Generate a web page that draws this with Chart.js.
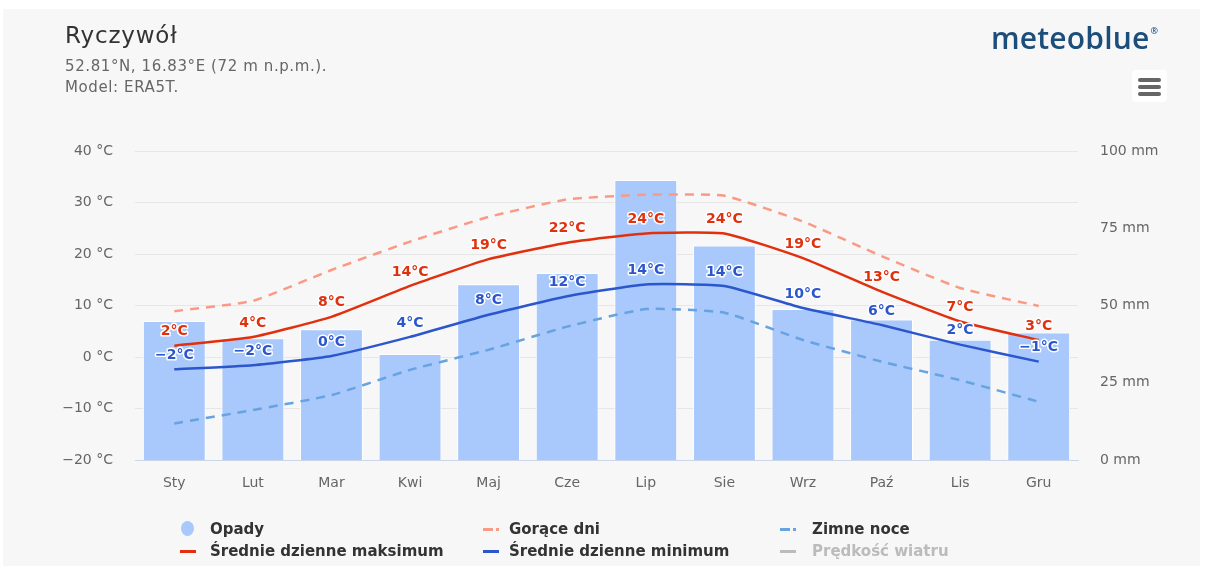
<!DOCTYPE html>
<html>
<head>
<meta charset="utf-8">
<script src="https://cdn.jsdelivr.net/npm/chart.js@4.4.1/dist/chart.umd.min.js"></script>
<style>
  html, body { margin:0; padding:0; background:#ffffff; }
  body { width:1206px; height:566px; position:relative; overflow:hidden; font-family:"DejaVu Sans", sans-serif; }
  #panel { position:absolute; left:3px; top:9px; width:1197px; height:557px; background:#f7f7f7; }
  #chartWrap { position:absolute; left:0; top:0; width:1206px; height:566px; }
  #title { position:absolute; left:65px; top:22px; font-size:23px; color:#333; letter-spacing:0.8px; }
  .sub { position:absolute; left:65px; font-size:15px; color:#666; letter-spacing:0.6px; }
  #logo { position:absolute; left:991px; top:17px; font-family:"Open Sans", sans-serif; font-weight:600; font-size:30px; color:#1c4e7b; letter-spacing:0.2px; }
  #logo sup { font-size:9px; position:relative; top:-4px; margin-left:1px; }
  #menu { position:absolute; left:1132px; top:70px; width:35px; height:32px; background:#fff; border-radius:4px; }
  #menu div { position:absolute; left:6px; width:23px; height:3.5px; background:#666; border-radius:2px; }
  .leg { position:absolute; font-size:15px; font-weight:700; color:#333; white-space:nowrap; line-height:18px; }
  .sym { position:absolute; }
</style>
</head>
<body>
<div id="panel"></div>
<div id="chartWrap"><canvas id="c" width="1206" height="566"></canvas></div>
<div id="title">Ryczywół</div>
<div class="sub" style="top:57px;">52.81°N, 16.83°E (72 m n.p.m.).</div>
<div class="sub" style="top:78px;">Model: ERA5T.</div>
<div id="logo">meteoblue<sup>®</sup></div>
<div id="menu"><div style="top:8px"></div><div style="top:15px"></div><div style="top:22px"></div></div>

<div class="sym" style="left:181px;top:521px;width:13px;height:15px;border-radius:50%;background:#a9c8fb;"></div>
<div class="leg" style="left:210px;top:520px;">Opady</div>
<div class="sym" style="left:483px;top:528px;width:10px;height:3px;background:#fa9a85;"></div>
<div class="sym" style="left:496px;top:528px;width:3px;height:3px;background:#fa9a85;"></div>
<div class="leg" style="left:509px;top:520px;">Gorące dni</div>
<div class="sym" style="left:780px;top:528px;width:10px;height:3px;background:#66a3e0;"></div>
<div class="sym" style="left:793px;top:528px;width:3px;height:3px;background:#66a3e0;"></div>
<div class="leg" style="left:812px;top:520px;">Zimne noce</div>

<div class="sym" style="left:180px;top:550px;width:16px;height:3px;background:#e0300e;"></div>
<div class="leg" style="left:210px;top:542px;">Średnie dzienne maksimum</div>
<div class="sym" style="left:483px;top:550px;width:16px;height:3px;background:#2b56cc;"></div>
<div class="leg" style="left:509px;top:542px;">Średnie dzienne minimum</div>
<div class="sym" style="left:780px;top:550px;width:16px;height:3px;background:#bbbbbb;"></div>
<div class="leg" style="left:812px;top:542px;color:#bbbbbb;">Prędkość wiatru</div>

<script>
const categories = ['Sty','Lut','Mar','Kwi','Maj','Cze','Lip','Sie','Wrz','Paź','Lis','Gru'];
const precipitation = [45.0, 39.4, 42.3, 34.3, 56.9, 60.5, 90.6, 69.4, 48.9, 45.5, 38.9, 41.3];
const meanMax = [2.2, 3.9, 7.8, 13.8, 19.0, 22.2, 24.0, 24.0, 19.2, 12.7, 6.9, 3.3];
const meanMin = [-2.4, -1.6, 0.2, 3.9, 8.2, 11.8, 14.1, 13.8, 9.5, 6.2, 2.4, -0.9];
const hotDays = [8.9, 10.9, 16.9, 22.4, 27.2, 30.6, 31.5, 31.3, 26.3, 19.6, 13.4, 9.9];
const coldNights = [-12.9, -10.3, -7.4, -2.5, 1.4, 5.9, 9.3, 8.6, 3.3, -0.9, -4.5, -8.7];
const tempTicks = [-20, -10, 0, 10, 20, 30, 40];
const precipTicks = [0, 25, 50, 75, 100];

const RED = '#e0300e', BLUE = '#2b56cc';
const TICK_FONT = { family:'"DejaVu Sans", sans-serif', size:14 };

function fmtTemp(v) {
  const r = Math.round(v);
  return (r < 0 ? '\u2212' + Math.abs(r) : String(r)) + '°C';
}

const labelPlugin = {
  id: 'pointLabels',
  afterDatasetsDraw(chart) {
    const ctx = chart.ctx;
    ctx.save();
    ctx.font = 'bold 14px "DejaVu Sans", sans-serif';
    ctx.textAlign = 'center';
    ctx.textBaseline = 'bottom';
    ctx.lineJoin = 'round';
    chart.data.datasets.forEach((ds, i) => {
      if (!ds.showLabels) return;
      const meta = chart.getDatasetMeta(i);
      meta.data.forEach((pt, j) => {
        const txt = fmtTemp(ds.data[j]);
        const y = pt.y - 7;
        ctx.lineWidth = 3;
        ctx.strokeStyle = '#ffffff';
        ctx.strokeText(txt, pt.x, y);
        ctx.fillStyle = ds.borderColor;
        ctx.fillText(txt, pt.x, y);
      });
    });
    ctx.restore();
  }
};

const lineCommon = { yAxisID:'y', borderWidth:2.5, pointRadius:0, tension:0.15 };

new Chart(document.getElementById('c'), {
  data: {
    labels: categories,
    datasets: [
      Object.assign({ type:'line', label:'Średnie dzienne maksimum', data: meanMax, borderColor: RED, order:1, showLabels:true }, lineCommon),
      Object.assign({ type:'line', label:'Średnie dzienne minimum', data: meanMin, borderColor: BLUE, order:2, showLabels:true }, lineCommon),
      Object.assign({ type:'line', label:'Gorące dni', data: hotDays, borderColor:'#fa9a85', borderDash:[9,7], order:3 }, lineCommon),
      Object.assign({ type:'line', label:'Zimne noce', data: coldNights, borderColor:'#66a3e0', borderDash:[9,7], order:4 }, lineCommon),
      { type:'bar', label:'Opady', data: precipitation, yAxisID:'y1', backgroundColor:'#a9c8fb', borderColor:'#ffffff', borderWidth:1, barPercentage:0.8, categoryPercentage:1.0, order:10 }
    ]
  },
  options: {
    responsive:false,
    animation:false,
    events:[],
    layout:{ padding:{ top:151, left:0, right:0, bottom:0 } },
    plugins:{ legend:{ display:false }, tooltip:{ enabled:false }, title:{ display:false } },
    scales:{
      x:{
        offset:true,
        grid:{ display:false, drawTicks:false },
        border:{ display:true, color:'#ccd6eb', width:1 },
        ticks:{ color:'#666', font:TICK_FONT, padding:15, maxRotation:0 },
        afterFit(s){ s.height = 106; }
      },
      y:{
        position:'left', min:-20, max:40,
        afterBuildTicks(s){ s.ticks = tempTicks.map(v => ({ value:v })); },
        grid:{ color:'#e6e6e6', drawTicks:false, lineWidth:1 },
        border:{ display:false },
        ticks:{ color:'#666', font:TICK_FONT, padding:22,
          callback:(v) => (v < 0 ? '\u2212' + Math.abs(v) : v) + ' °C' },
        afterFit(s){ s.width = 135; }
      },
      y1:{
        position:'right', min:0, max:100,
        afterBuildTicks(s){ s.ticks = precipTicks.map(v => ({ value:v })); },
        grid:{ display:false, drawTicks:false },
        border:{ display:false },
        ticks:{ color:'#666', font:TICK_FONT, padding:22,
          callback:(v) => v + ' mm' },
        afterFit(s){ s.width = 128; }
      }
    }
  },
  plugins:[labelPlugin]
});
</script>
</body>
</html>
